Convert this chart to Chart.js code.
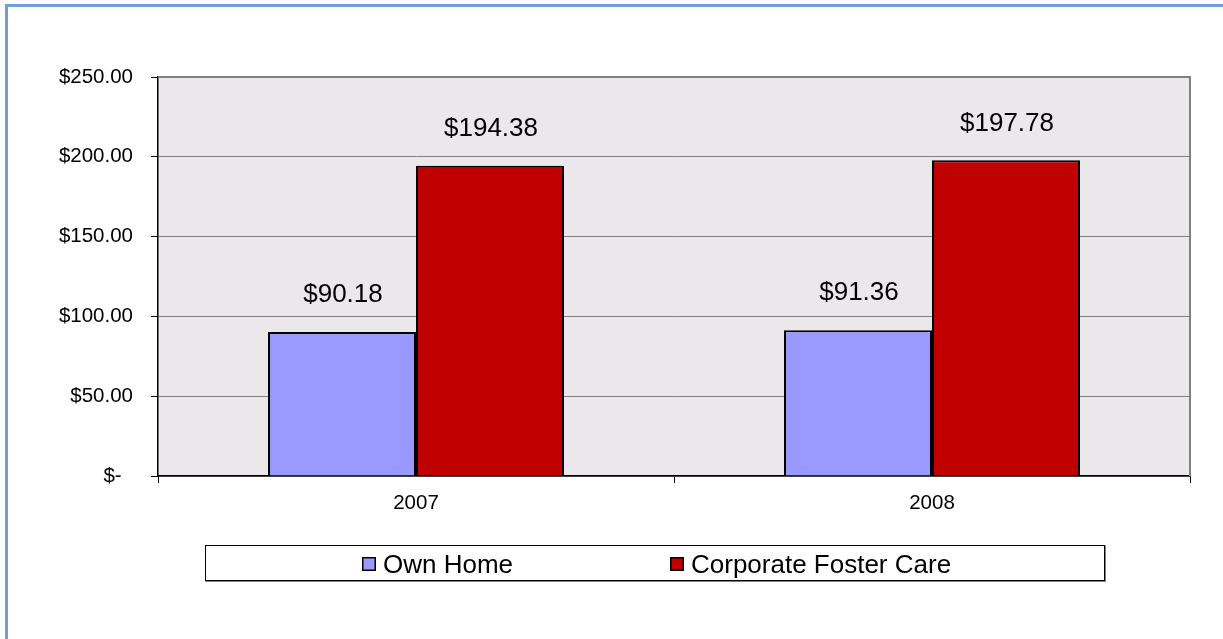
<!DOCTYPE html>
<html><head><meta charset="utf-8">
<script src="https://cdn.jsdelivr.net/npm/chart.js@4"></script>
<style>html,body{margin:0;padding:0;background:#fff;overflow:hidden}#wrap{position:relative;width:1223px;height:639px}</style>
</head><body><div id="wrap"><canvas id="c" width="1223" height="639"></canvas></div>
<script>
const categories = ['2007', '2008'];
const seriesNames = ['Own Home', 'Corporate Foster Care'];
const ownHome = [90.18, 91.36];
const corporateFosterCare = [194.38, 197.78];
const seriesColors = ['#9999FF', '#C00000'];
const yTickValues = [0, 50, 100, 150, 200, 250];
const yTickLabels = ['$-  ', '$50.00', '$100.00', '$150.00', '$200.00', '$250.00'];

const FONT = "'Liberation Sans', Arial, sans-serif";

const plotBg = {
  id: 'plotBg',
  beforeDraw(chart) {
    const {ctx, chartArea: a} = chart;
    ctx.save();
    ctx.fillStyle = '#EAE8EA';
    ctx.fillRect(a.left, a.top, a.right - a.left, a.bottom - a.top);
    ctx.restore();
  },
  afterDraw(chart) {
    const {ctx, chartArea: a} = chart;
    ctx.save();
    // plot top/right gray border
    ctx.strokeStyle = '#808080';
    ctx.lineWidth = 2;
    ctx.beginPath();
    ctx.moveTo(a.left, a.top);
    ctx.lineTo(a.right, a.top);
    ctx.lineTo(a.right, a.bottom);
    ctx.stroke();
    // outer frame
    ctx.strokeStyle = '#6FA0D8';
    ctx.lineWidth = 3;
    ctx.beginPath();
    ctx.moveTo(6.5, 639);
    ctx.lineTo(6.5, 5.5);
    ctx.lineTo(1223, 5.5);
    ctx.stroke();
    // legend
    const lx = 205.5, ly = 545.5, lw = 899, lh = 35;
    ctx.fillStyle = '#fff';
    ctx.fillRect(lx, ly, lw, lh);
    ctx.strokeStyle = '#808080';
    ctx.lineWidth = 2;
    ctx.beginPath();
    ctx.moveTo(lx + lw + 0.5, ly);
    ctx.lineTo(lx + lw + 0.5, ly + lh + 0.5);
    ctx.lineTo(lx, ly + lh + 0.5);
    ctx.stroke();
    ctx.strokeStyle = '#000';
    ctx.lineWidth = 1;
    ctx.strokeRect(lx, ly, lw, lh);
    const itemX = [362, 670];
    ctx.font = '26px ' + FONT;
    ctx.textBaseline = 'alphabetic';
    ctx.textAlign = 'left';
    chart.data.datasets.forEach((ds, i) => {
      ctx.fillStyle = ds.backgroundColor;
      ctx.fillRect(itemX[i], 557, 14, 14);
      ctx.strokeStyle = '#000';
      ctx.lineWidth = 1.5;
      ctx.strokeRect(itemX[i] + 0.75, 557.75, 12.5, 12.5);
      ctx.fillStyle = '#000';
      ctx.fillText(ds.label, itemX[i] + 21, 573);
    });
    ctx.restore();
  }
};

const dataLabels = {
  id: 'dataLabels',
  afterDatasetsDraw(chart) {
    const {ctx} = chart;
    ctx.save();
    ctx.font = '26px ' + FONT;
    ctx.fillStyle = '#000';
    ctx.textAlign = 'center';
    ctx.textBaseline = 'middle';
    chart.data.datasets.forEach((ds, di) => {
      const meta = chart.getDatasetMeta(di);
      meta.data.forEach((el, i) => {
        ctx.fillText('$' + ds.data[i].toFixed(2), el.x + 1, el.y - 37);
      });
    });
    ctx.restore();
  }
};

new Chart(document.getElementById('c'), {
  type: 'bar',
  data: {
    labels: categories,
    datasets: [
      {label: seriesNames[0], data: ownHome, backgroundColor: seriesColors[0], borderColor: '#000', borderWidth: 2},
      {label: seriesNames[1], data: corporateFosterCare, backgroundColor: seriesColors[1], borderColor: '#000', borderWidth: 2}
    ]
  },
  options: {
    responsive: false,
    animation: false,
    devicePixelRatio: 1,
    layout: {padding: {left: 0, top: 77, right: 33, bottom: 123}},
    categoryPercentage: 0.5736,
    barPercentage: 1,
    plugins: {legend: {display: false}, tooltip: {enabled: false}},
    scales: {
      x: {
        afterFit(s) { s.height = 40; },
        grid: {drawOnChartArea: false, drawTicks: true, tickLength: 7, color: '#000', tickColor: '#000', offset: true},
        border: {display: true, color: '#000', width: 1.5},
        ticks: {color: '#000', font: {family: FONT, size: 20.5}, padding: 8}
      },
      y: {
        min: 0, max: 250,
        afterFit(s) { s.width = 158; },
        afterBuildTicks(s) { s.ticks = yTickValues.map(v => ({value: v})); },
        grid: {color: '#808080', lineWidth: 1, tickLength: 7, tickColor: '#000'},
        border: {display: true, color: '#000', width: 1.5},
        ticks: {
          color: '#000', font: {family: FONT, size: 20.5}, padding: 18,
          callback(v) { const i = yTickValues.indexOf(v); return i >= 0 ? yTickLabels[i] : ''; }
        }
      }
    }
  },
  plugins: [plotBg, dataLabels]
});
</script>
</body></html>
